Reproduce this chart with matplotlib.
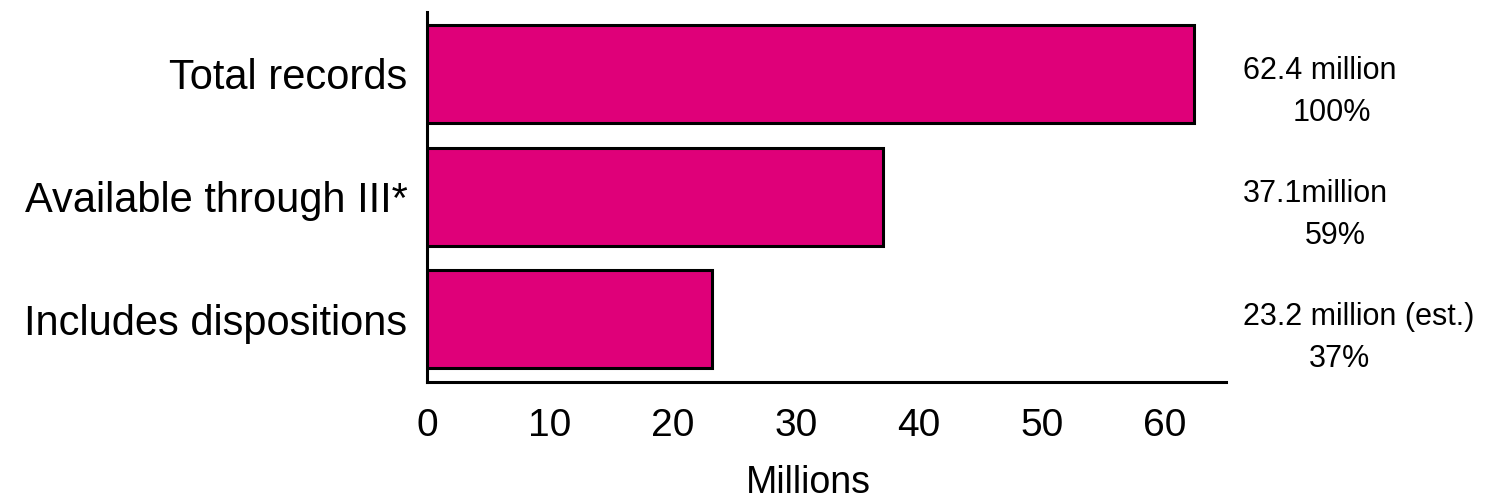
import matplotlib
matplotlib.use("Agg")
import matplotlib.pyplot as plt

# values
categories = ["Total records", "Available through III*", "Includes dispositions"]
records_millions = [62.4, 37.1, 23.2]
value_labels = ["62.4 million", "37.1million", "23.2 million (est.)"]
pct_labels = ["100%", "59%", "37%"]
xticks = [0, 10, 20, 30, 40, 50, 60]

bar_color = "#DF0079"
plain = ["Liberation Sans", "DejaVu Sans"]

fig = plt.figure(figsize=(14.92, 4.99), dpi=100)
ax = fig.add_axes([0.2862, 0.2345, 0.5355, 0.7415])

ypos = list(range(len(categories)))
ax.barh(ypos, records_millions, height=0.8, color=bar_color,
        edgecolor="black", linewidth=2.2)

ax.set_xlim(0, 65)
ax.set_ylim(2.51, -0.505)

for s in ["top", "right"]:
    ax.spines[s].set_visible(False)
ax.spines["left"].set_linewidth(2.2)
ax.spines["bottom"].set_linewidth(2.2)

ax.set_yticks(ypos)
ax.set_yticklabels(categories, fontsize=30, family=plain)
ax.tick_params(axis="y", length=0, pad=14)

ax.set_xticks(xticks)
ax.set_xticklabels([str(t) for t in xticks], fontsize=28, family=plain)
ax.tick_params(axis="x", length=0, pad=19)

# value / percent annotations to the right of the axes
pct_x = [73.6, 73.9, 74.2]
for i in ypos:
    ax.text(66.4, i - 0.02, value_labels[i], fontsize=22, family=plain,
            ha="left", va="center", clip_on=False)
    ax.text(pct_x[i], i + 0.32, pct_labels[i], fontsize=22, family=plain,
            ha="center", va="center", clip_on=False)

fig.text(808 / 1492, 0.012, "Millions", fontsize=27, family=plain,
         ha="center", va="baseline")

fig.savefig("out.png", dpi=100, facecolor="white")
